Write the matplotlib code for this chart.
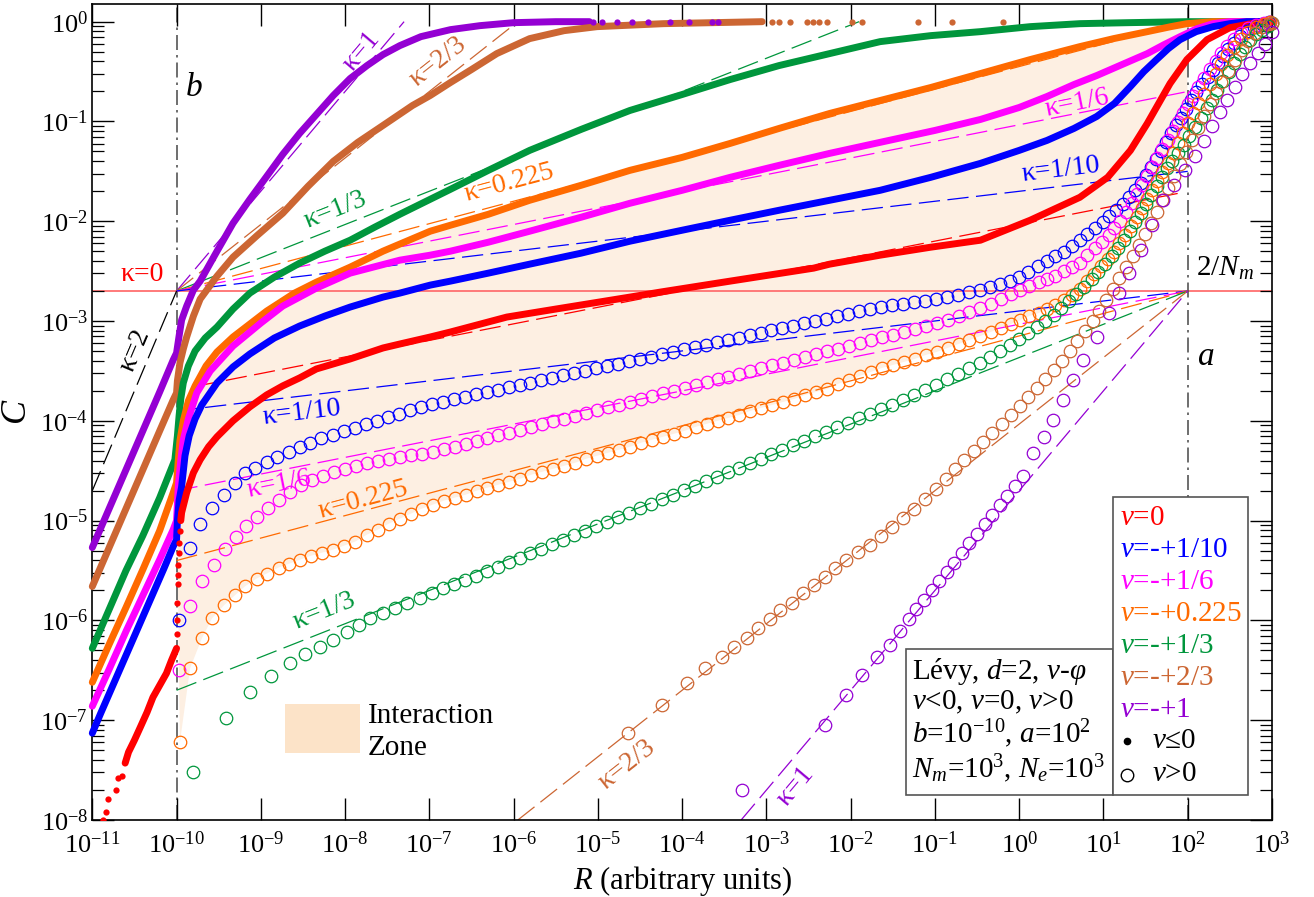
import numpy as np
import matplotlib.pyplot as plt
from matplotlib.patches import Rectangle

plt.rcParams['font.family'] = ['Liberation Serif', 'DejaVu Serif']
plt.rcParams['mathtext.fontset'] = 'custom'
plt.rcParams['mathtext.rm'] = 'Liberation Serif'
plt.rcParams['mathtext.it'] = 'Liberation Serif:italic'
plt.rcParams['mathtext.bf'] = 'Liberation Serif:bold'

RED, BLUE, MAG, ORG = '#ff0000', '#0000ff', '#ff00ff', '#ff6a00'
GRN, BRN, PUR = '#00963c', '#cc6633', '#9400d3'

# ---- v<=0 curves, (log10 R, log10 C) ----
red_dots_lr = [-10.87, -10.84, -10.81, -10.72, -10.69, -10.65,
               -9.995, -9.99, -9.99, -9.985, -9.98, -9.98, -9.975, -9.97, -9.96]
red_dots_lc = [-8.0, -7.92, -7.79, -7.70, -7.58, -7.56,
               -6.14, -6.0, -5.83, -5.64, -5.54, -5.44, -5.32, -5.22, -5.1]
red_lo_lr = [-10.61, -10.57, -10.50, -10.43, -10.35, -10.28, -10.20, -10.12, -10.06, -10.0]
red_lo_lc = [-7.43, -7.32, -7.20, -7.07, -6.92, -6.77, -6.65, -6.53, -6.40, -6.28]
red_lr = [-9.95, -9.94, -9.88, -9.80, -9.72, -9.62, -9.52, -9.33, -9.13, -8.93, -8.74, -8.54,
          -8.34, -7.94, -7.55, -7.35, -6.99, -6.75, -6.08, -5.5, -4.62, -4.26, -3.43, -2.44,
          -2.25, -1.65, -1.05, -0.46, 0.13, 0.72, 1.05, 1.32, 1.52, 1.79, 1.99, 2.23, 2.5,
          2.82, 3.0]
red_lc = [-5.0, -4.92, -4.72, -4.52, -4.39, -4.26, -4.16, -4.0, -3.86, -3.74, -3.65, -3.57,
          -3.48, -3.38, -3.27, -3.23, -3.16, -3.11, -2.96, -2.88, -2.76, -2.71, -2.60, -2.47,
          -2.43, -2.34, -2.26, -2.19, -1.99, -1.76, -1.56, -1.29, -1.02, -0.62, -0.38, -0.18,
          -0.06, -0.01, 0.0]

blue_lr = [-11.0, -10.9, -10.75, -10.6, -10.45, -10.3, -10.15, -10.04, -10.0, -9.99, -9.97,
           -9.94, -9.90, -9.85, -9.78, -9.70, -9.52, -9.33, -9.13, -8.84, -8.54, -8.24, -7.94,
           -7.55, -7.35, -6.99, -6.75, -6.3, -5.81, -5.2, -4.62, -4.0, -3.43, -2.85, -2.25,
           -1.65, -1.05, -0.46, 0.0, 0.33, 0.65, 0.92, 1.13, 1.32, 1.48, 1.63, 1.77, 1.91,
           2.1, 2.3, 2.5, 2.7, 3.0]
blue_lc = [-7.13, -6.93, -6.64, -6.35, -6.06, -5.77, -5.48, -5.26, -5.19, -5.0, -4.8,
           -4.66, -4.35, -4.15, -3.98, -3.84, -3.62, -3.46, -3.33, -3.17, -3.05, -2.95, -2.86,
           -2.76, -2.72, -2.64, -2.60, -2.52, -2.43, -2.32, -2.20, -2.09, -1.99, -1.89, -1.79,
           -1.69, -1.56, -1.42, -1.29, -1.19, -1.07, -0.95, -0.82, -0.65, -0.50, -0.38, -0.27,
           -0.18, -0.10, -0.05, -0.02, 0.0, 0.0]

mag_lr = [-11.0, -10.8, -10.6, -10.4, -10.2, -10.04, -10.0, -9.98, -9.95, -9.92, -9.86,
          -9.76, -9.6, -9.33, -9.0, -8.74, -8.34, -7.94, -7.35, -6.99, -6.75, -6.3, -5.81,
          -5.2, -4.62, -4.0, -3.43, -2.85, -2.25, -1.6, -1.0, -0.46, 0.0, 0.33, 0.65, 0.92,
          1.22, 1.52, 1.72, 1.91, 2.11, 2.3, 2.5, 3.0]
mag_lc = [-6.86, -6.49, -6.11, -5.75, -5.39, -5.09, -5.0, -4.66, -4.40, -4.19, -3.98,
          -3.72, -3.50, -3.25, -3.02, -2.85, -2.67, -2.52, -2.39, -2.34, -2.30, -2.21, -2.10,
          -1.96, -1.82, -1.69, -1.56, -1.44, -1.32, -1.20, -1.09, -0.98, -0.86, -0.75, -0.63,
          -0.54, -0.43, -0.32, -0.23, -0.15, -0.07, -0.02, 0.0, 0.0]

org_lr = [-11.0, -10.8, -10.6, -10.4, -10.2, -10.04, -10.0, -9.98, -9.96, -9.92, -9.86,
          -9.78, -9.65, -9.52, -9.33, -9.13, -8.93, -8.6, -8.34, -7.94, -7.55, -6.99, -6.75,
          -6.3, -5.81, -5.2, -4.62, -4.0, -3.43, -2.85, -2.25, -1.65, -1.05, -0.46, 0.13,
          0.72, 1.12, 1.52, 1.8, 1.99, 2.3, 3.0]
org_lc = [-6.62, -6.24, -5.87, -5.49, -5.10, -4.72, -4.62, -4.40, -4.20, -4.0, -3.80,
          -3.65, -3.45, -3.31, -3.16, -3.03, -2.90, -2.72, -2.61, -2.46, -2.30, -2.10, -2.04,
          -1.93, -1.79, -1.64, -1.49, -1.36, -1.22, -1.07, -0.92, -0.79, -0.66, -0.52, -0.38,
          -0.25, -0.17, -0.10, -0.05, -0.02, 0.0, 0.0]

grn_lr = [-11.0, -10.8, -10.6, -10.4, -10.2, -10.02, -9.99, -9.97, -9.95, -9.92, -9.86,
          -9.78, -9.66, -9.52, -9.33, -9.13, -8.84, -8.54, -8.24, -7.94, -7.65, -7.35, -6.99,
          -6.75, -6.3, -5.81, -5.2, -4.62, -4.0, -3.43, -2.85, -2.25, -1.65, -1.05, -0.46,
          0.13, 0.72, 1.3, 1.99, 3.0]
grn_lc = [-6.28, -5.89, -5.50, -5.15, -4.77, -4.39, -4.15, -3.95, -3.78, -3.62, -3.45,
          -3.30, -3.17, -3.06, -2.88, -2.72, -2.56, -2.42, -2.30, -2.19, -2.06, -1.93, -1.78,
          -1.68, -1.49, -1.29, -1.08, -0.89, -0.73, -0.58, -0.44, -0.32, -0.20, -0.14, -0.10,
          -0.05, -0.02, -0.01, 0.0, 0.0]

brn_lr = [-11.0, -10.8, -10.6, -10.4, -10.2, -10.04, -10.0, -9.99, -9.96, -9.92, -9.88,
          -9.80, -9.72, -9.52, -9.33, -9.04, -8.74, -8.44, -8.14, -7.85, -7.55, -7.2, -6.99,
          -6.75, -6.5, -6.2, -5.81, -5.4, -5.01, -4.22, -3.05]
brn_lc = [-5.66, -5.27, -4.88, -4.49, -4.10, -3.79, -3.72, -3.60, -3.42, -3.28, -3.16,
          -2.95, -2.78, -2.55, -2.36, -2.14, -1.92, -1.65, -1.40, -1.21, -1.04, -0.84, -0.74,
          -0.61, -0.48, -0.32, -0.17, -0.09, -0.05, -0.02, 0.0]
brn_top_dots = [-2.93, -2.85, -2.72, -2.52, -2.45, -2.38, -2.28, -1.98, -1.86, -1.2, -0.8, -0.19]

pur_lr = [-11.0, -10.8, -10.6, -10.4, -10.2, -10.04, -10.0, -9.97, -9.94, -9.88, -9.8,
          -9.72, -9.52, -9.33, -9.13, -8.93, -8.74, -8.54, -8.34, -8.14, -7.94, -7.74, -7.55,
          -7.35, -7.1, -6.75, -6.4, -6.0, -5.5, -5.1]
pur_lc = [-5.27, -4.88, -4.49, -4.10, -3.71, -3.39, -3.32, -3.15, -2.99, -2.85, -2.69,
          -2.60, -2.30, -2.02, -1.78, -1.55, -1.33, -1.12, -0.93, -0.74, -0.57, -0.44, -0.33,
          -0.24, -0.15, -0.08, -0.04, -0.01, 0.0, 0.0]
pur_top_dots = [-5.06, -4.95, -4.77, -4.59, -4.41, -4.14, -3.92, -3.64, -3.57]

# ---- v>0 open circles, (log10 R, log10 C) ----
blue_c_lr = [-9.97, -9.84, -9.72, -9.58, -9.44, -9.31, -9.19, -9.07, -8.93, -8.81, -8.67,
             -8.54, -8.42, -8.28, -8.14, -8.01, -7.88, -7.75, -7.62, -7.49, -7.36, -7.23,
             -7.10, -6.97, -6.84, -6.71, -6.58, -6.45, -6.32, -6.19, -6.06, -5.93, -5.80,
             -5.67, -5.54, -5.41, -5.28, -5.15, -5.02, -4.89, -4.76, -4.63, -4.50, -4.37,
             -4.24, -4.11, -3.98, -3.85, -3.72, -3.59, -3.46, -3.33, -3.20, -3.07, -2.94,
             -2.81, -2.68, -2.55, -2.42, -2.29, -2.16, -2.03, -1.90, -1.77, -1.64, -1.51,
             -1.38, -1.25, -1.12, -0.99, -0.86, -0.73, -0.60, -0.47, -0.35, -0.23, -0.11,
             0.00, 0.11, 0.22, 0.33, 0.43, 0.53, 0.63, 0.72, 0.81, 0.90, 0.99, 1.07, 1.15,
             1.23, 1.30, 1.37, 1.44, 1.50, 1.56, 1.62, 1.68, 1.74, 1.80, 1.86, 1.92, 1.98,
             2.04, 2.10, 2.17, 2.24, 2.30, 2.36, 2.42, 2.48, 2.55, 2.62, 2.70, 2.79, 2.88,
             2.97]
blue_c_lc = [-6.00, -5.27, -5.03, -4.87, -4.74, -4.62, -4.52, -4.47, -4.41, -4.36, -4.31,
             -4.26, -4.22, -4.17, -4.14, -4.10, -4.07, -4.03, -4.00, -3.96, -3.93, -3.89,
             -3.86, -3.83, -3.81, -3.78, -3.76, -3.73, -3.71, -3.69, -3.66, -3.64, -3.62,
             -3.59, -3.57, -3.54, -3.52, -3.50, -3.47, -3.45, -3.43, -3.40, -3.38, -3.36,
             -3.33, -3.31, -3.28, -3.26, -3.24, -3.21, -3.19, -3.17, -3.14, -3.12, -3.09,
             -3.07, -3.05, -3.02, -3.00, -2.98, -2.95, -2.93, -2.90, -2.88, -2.86, -2.84,
             -2.83, -2.81, -2.80, -2.78, -2.76, -2.74, -2.71, -2.69, -2.66, -2.63, -2.60,
             -2.56, -2.51, -2.45, -2.40, -2.35, -2.31, -2.25, -2.19, -2.13, -2.07, -2.01,
             -1.95, -1.89, -1.83, -1.76, -1.69, -1.62, -1.54, -1.46, -1.38, -1.30, -1.21,
             -1.12, -1.04, -0.97, -0.88, -0.79, -0.70, -0.62, -0.55, -0.48, -0.41, -0.34,
             -0.27, -0.21, -0.14, -0.09, -0.05, -0.02, 0.00]

mag_c_lr = [-9.97, -9.84, -9.70, -9.56, -9.43, -9.30, -9.17, -9.04, -8.91, -8.78, -8.65,
            -8.52, -8.39, -8.26, -8.13, -8.00, -7.87, -7.74, -7.61, -7.48, -7.35, -7.22,
            -7.09, -6.96, -6.83, -6.70, -6.57, -6.44, -6.31, -6.18, -6.05, -5.92, -5.79,
            -5.66, -5.53, -5.40, -5.27, -5.14, -5.01, -4.88, -4.75, -4.62, -4.49, -4.36,
            -4.23, -4.10, -3.97, -3.84, -3.71, -3.58, -3.45, -3.32, -3.19, -3.06, -2.93,
            -2.80, -2.67, -2.54, -2.41, -2.28, -2.15, -2.02, -1.89, -1.76, -1.63, -1.50,
            -1.37, -1.24, -1.11, -0.98, -0.85, -0.72, -0.59, -0.46, -0.34, -0.22, -0.10,
            0.01, 0.12, 0.23, 0.33, 0.43, 0.53, 0.63, 0.72, 0.81, 0.90, 0.98, 1.06, 1.13,
            1.20, 1.27, 1.34, 1.40, 1.46, 1.52, 1.58, 1.64, 1.70, 1.76, 1.82, 1.88, 1.94,
            2.00, 2.06, 2.12, 2.19, 2.26, 2.33, 2.40, 2.47, 2.55, 2.63, 2.72, 2.81, 2.90,
            2.98]
mag_c_lc = [-6.50, -5.86, -5.60, -5.44, -5.28, -5.16, -5.05, -4.96, -4.87, -4.79, -4.71,
            -4.64, -4.59, -4.55, -4.51, -4.48, -4.45, -4.42, -4.40, -4.38, -4.36, -4.34,
            -4.33, -4.31, -4.28, -4.26, -4.23, -4.20, -4.17, -4.14, -4.12, -4.09, -4.06,
            -4.03, -4.00, -3.98, -3.95, -3.92, -3.89, -3.86, -3.84, -3.81, -3.78, -3.75,
            -3.72, -3.70, -3.67, -3.64, -3.61, -3.58, -3.56, -3.53, -3.50, -3.47, -3.44,
            -3.42, -3.39, -3.36, -3.33, -3.30, -3.28, -3.25, -3.22, -3.19, -3.16, -3.14,
            -3.11, -3.08, -3.05, -3.02, -2.99, -2.95, -2.91, -2.87, -2.83, -2.78, -2.73,
            -2.69, -2.65, -2.61, -2.58, -2.55, -2.50, -2.46, -2.42, -2.34, -2.27, -2.21,
            -2.14, -2.07, -2.00, -1.91, -1.82, -1.73, -1.64, -1.55, -1.46, -1.37, -1.28,
            -1.19, -1.10, -1.01, -0.92, -0.83, -0.74, -0.65, -0.56, -0.47, -0.39, -0.31,
            -0.24, -0.17, -0.11, -0.06, -0.03, -0.01, 0.00]

org_c_lr = [-9.96, -9.84, -9.70, -9.58, -9.44, -9.31, -9.19, -9.05, -8.93, -8.79, -8.66,
            -8.53, -8.40, -8.27, -8.14, -8.01, -7.88, -7.74, -7.61, -7.48, -7.35, -7.22,
            -7.09, -6.96, -6.83, -6.70, -6.57, -6.44, -6.31, -6.18, -6.05, -5.92, -5.79,
            -5.66, -5.53, -5.40, -5.27, -5.14, -5.01, -4.88, -4.75, -4.62, -4.49, -4.36,
            -4.23, -4.10, -3.97, -3.84, -3.71, -3.58, -3.45, -3.32, -3.19, -3.06, -2.93,
            -2.80, -2.67, -2.54, -2.41, -2.28, -2.15, -2.02, -1.89, -1.76, -1.63, -1.50,
            -1.37, -1.24, -1.11, -0.98, -0.85, -0.72, -0.59, -0.46, -0.34, -0.22, -0.10,
            0.01, 0.12, 0.23, 0.33, 0.43, 0.53, 0.63, 0.72, 0.81, 0.89, 0.97, 1.05, 1.12,
            1.19, 1.26, 1.33, 1.40, 1.46, 1.52, 1.58, 1.64, 1.70, 1.76, 1.82, 1.88, 1.94,
            2.00, 2.06, 2.12, 2.19, 2.26, 2.33, 2.40, 2.47, 2.55, 2.63, 2.72, 2.81, 2.90,
            2.98]
org_c_lc = [-7.22, -6.48, -6.18, -5.98, -5.85, -5.75, -5.66, -5.58, -5.53, -5.47, -5.43,
            -5.39, -5.35, -5.32, -5.29, -5.25, -5.21, -5.14, -5.09, -5.03, -4.98, -4.93,
            -4.88, -4.84, -4.80, -4.77, -4.74, -4.70, -4.67, -4.64, -4.61, -4.58, -4.54,
            -4.51, -4.48, -4.45, -4.42, -4.38, -4.35, -4.32, -4.29, -4.26, -4.22, -4.19,
            -4.16, -4.13, -4.10, -4.06, -4.03, -4.00, -3.97, -3.94, -3.90, -3.87, -3.84,
            -3.81, -3.78, -3.74, -3.71, -3.68, -3.63, -3.59, -3.55, -3.51, -3.47, -3.44,
            -3.41, -3.38, -3.34, -3.31, -3.27, -3.23, -3.19, -3.15, -3.11, -3.07, -3.03,
            -2.99, -2.95, -2.92, -2.88, -2.84, -2.79, -2.74, -2.68, -2.60, -2.53, -2.45,
            -2.38, -2.31, -2.22, -2.14, -2.05, -1.96, -1.87, -1.78, -1.69, -1.60, -1.51,
            -1.42, -1.32, -1.22, -1.12, -1.02, -0.92, -0.82, -0.72, -0.62, -0.52, -0.42,
            -0.33, -0.25, -0.17, -0.10, -0.05, -0.02, 0.00]

grn_c_lr = [-9.80, -9.41, -9.13, -8.88, -8.65, -8.47, -8.30, -8.14, -7.98, -7.84, -7.70,
            -7.55, -7.41, -7.27, -7.11, -6.97, -6.84, -6.71, -6.58, -6.45, -6.32, -6.19,
            -6.06, -5.93, -5.80, -5.67, -5.54, -5.41, -5.28, -5.15, -5.02, -4.89, -4.76,
            -4.63, -4.50, -4.37, -4.24, -4.11, -3.98, -3.85, -3.72, -3.59, -3.46, -3.33,
            -3.20, -3.07, -2.94, -2.81, -2.68, -2.55, -2.42, -2.29, -2.16, -2.03, -1.90,
            -1.77, -1.64, -1.51, -1.38, -1.25, -1.12, -0.99, -0.86, -0.73, -0.60, -0.47,
            -0.35, -0.23, -0.11, 0.00, 0.11, 0.21, 0.31, 0.41, 0.50, 0.59, 0.68, 0.77, 0.86,
            0.94, 1.02, 1.10, 1.17, 1.24, 1.31, 1.38, 1.45, 1.51, 1.57, 1.63, 1.69, 1.75,
            1.81, 1.88, 1.95, 2.02, 2.09, 2.16, 2.23, 2.29, 2.35, 2.42, 2.49, 2.55, 2.62,
            2.68, 2.74, 2.81, 2.88, 2.95, 3.0]
grn_c_lc = [-7.52, -6.98, -6.72, -6.56, -6.43, -6.34, -6.27, -6.20, -6.12, -6.05, -5.98,
            -5.93, -5.88, -5.83, -5.78, -5.73, -5.68, -5.64, -5.59, -5.55, -5.50, -5.46,
            -5.41, -5.37, -5.32, -5.28, -5.23, -5.19, -5.14, -5.10, -5.05, -5.01, -4.96,
            -4.92, -4.87, -4.83, -4.78, -4.74, -4.69, -4.65, -4.60, -4.56, -4.51, -4.47,
            -4.42, -4.38, -4.33, -4.29, -4.24, -4.20, -4.15, -4.11, -4.06, -4.02, -3.97,
            -3.93, -3.88, -3.84, -3.79, -3.74, -3.69, -3.64, -3.58, -3.53, -3.47, -3.42,
            -3.36, -3.30, -3.24, -3.18, -3.12, -3.06, -3.00, -2.94, -2.87, -2.80, -2.73,
            -2.66, -2.58, -2.51, -2.43, -2.35, -2.27, -2.19, -2.10, -2.01, -1.92, -1.83,
            -1.74, -1.65, -1.56, -1.47, -1.40, -1.32, -1.24, -1.15, -1.06, -0.97, -0.87,
            -0.78, -0.68, -0.59, -0.50, -0.41, -0.32, -0.25, -0.18, -0.12, -0.08, -0.04,
            -0.01]

brn_c_lr = [-4.64, -4.24, -3.94, -3.73, -3.53, -3.39, -3.23, -3.10, -2.96, -2.84, -2.70,
            -2.56, -2.44, -2.31, -2.19, -2.05, -1.91, -1.77, -1.64, -1.51, -1.38, -1.25,
            -1.12, -0.99, -0.87, -0.76, -0.65, -0.54, -0.43, -0.32, -0.21, -0.10, 0.01, 0.11,
            0.21, 0.31, 0.41, 0.51, 0.60, 0.69, 0.78, 0.87, 0.95, 1.03, 1.11, 1.19, 1.27,
            1.35, 1.42, 1.49, 1.56, 1.63, 1.70, 1.77, 1.84, 1.91, 1.98, 2.05, 2.12, 2.19,
            2.26, 2.33, 2.40, 2.48, 2.56, 2.64, 2.72, 2.80, 2.88, 2.96, 3.0]
brn_c_lc = [-7.13, -6.85, -6.63, -6.48, -6.37, -6.27, -6.18, -6.08, -5.99, -5.90, -5.83,
            -5.73, -5.65, -5.56, -5.47, -5.39, -5.31, -5.24, -5.15, -5.06, -4.97, -4.88,
            -4.78, -4.68, -4.58, -4.48, -4.39, -4.30, -4.21, -4.12, -4.03, -3.94, -3.85,
            -3.76, -3.67, -3.58, -3.49, -3.40, -3.30, -3.20, -3.10, -3.00, -2.90, -2.79,
            -2.68, -2.57, -2.46, -2.35, -2.24, -2.13, -2.02, -1.91, -1.79, -1.67, -1.55,
            -1.43, -1.31, -1.19, -1.07, -0.95, -0.83, -0.71, -0.60, -0.49, -0.38, -0.28,
            -0.19, -0.11, -0.05, -0.02, -0.01]

pur_c_lr = [-3.29, -2.31, -2.05, -1.86, -1.69, -1.53, -1.41, -1.31, -1.22, -1.13, -1.04,
            -0.95, -0.86, -0.77, -0.68, -0.59, -0.50, -0.41, -0.32, -0.23, -0.14, -0.05,
            0.04, 0.16, 0.29, 0.40, 0.52, 0.64, 0.76, 0.92, 1.06, 1.18, 1.30, 1.44, 1.58,
            1.71, 1.84, 1.97, 2.09, 2.19, 2.29, 2.38, 2.47, 2.56, 2.65, 2.74, 2.83, 2.92,
            3.0]
pur_c_lc = [-7.70, -7.05, -6.75, -6.55, -6.37, -6.25, -6.11, -5.99, -5.89, -5.80, -5.70,
            -5.61, -5.51, -5.42, -5.32, -5.22, -5.13, -5.03, -4.94, -4.84, -4.75, -4.65,
            -4.55, -4.32, -4.16, -3.99, -3.79, -3.59, -3.39, -3.16, -2.92, -2.72, -2.52,
            -2.29, -2.04, -1.79, -1.64, -1.49, -1.35, -1.20, -1.05, -0.91, -0.78, -0.65,
            -0.52, -0.41, -0.31, -0.22, -0.10]

# ---- asymptote (dashed) segments: (color, lr0, lc0, lr1, lc1) ----
upper_dash = [(PUR, -10.0, -2.699, -7.30, 0.0), (BRN, -10.0, -2.699, -5.95, 0.0),
              (GRN, -10.0, -2.699, -1.90, 0.0), (ORG, -10.0, -2.699, 2.0, 0.0),
              (MAG, -10.0, -2.699, 2.0, -0.70), (BLUE, -10.0, -2.699, 2.0, -1.50),
              (RED, -9.75, -3.65, 1.95, -1.71), ('black', -11.0, -4.70, -10.0, -2.699)]
lower_dash = [(BLUE, -10.0, -3.90, 2.0, -2.699), (MAG, -10.0, -4.70, 2.0, -2.699),
              (ORG, -10.0, -5.40, 2.0, -2.699), (GRN, -10.0, -6.70, 2.0, -2.699),
              (BRN, -5.95, -8.0, 2.0, -2.699), (PUR, -3.30, -8.0, 2.0, -2.699)]

# ---- kappa labels: text, color, lr, lc, rotation ----
kappa_labels = [('κ=1', PUR, -7.80, -0.30, 49.8), ('κ=2/3', BRN, -6.90, -0.40, 38.3),
                ('κ=1/3', GRN, -8.11, -1.89, 21.5), ('κ=0.225', ORG, -6.05, -1.62, 14.9),
                ('κ=1/6', MAG, 0.69, -0.82, 11.2), ('κ=1/10', BLUE, 0.49, -1.49, 6.8),
                ('κ=0', RED, -10.41, -2.53, 0), ('κ=2', 'black', -10.49, -3.29, 67),
                ('κ=1/10', BLUE, -8.51, -3.92, 6.8), ('κ=1/6', MAG, -8.78, -4.64, 11.2),
                ('κ=0.225', ORG, -7.79, -4.79, 14.9), ('κ=1/3', GRN, -8.24, -5.91, 21.5),
                ('κ=2/3', BRN, -4.66, -7.45, 38.3), ('κ=1', PUR, -2.65, -7.66, 49.8)]

legend_labels = ['$v$=0', '$v$=-+1/10', '$v$=-+1/6', '$v$=-+0.225', '$v$=-+1/3',
                 '$v$=-+2/3', '$v$=-+1']
legend_colors = [RED, BLUE, MAG, ORG, GRN, BRN, PUR]
info_lines = ['Lévy, $d$=2, $v$-$\\varphi$', '$v$<0, $v$=0, $v$>0',
              '$b$=10$^{-10}$, $a$=10$^2$', '$N_m$=10$^3$, $N_e$=10$^3$']


def P(a):
    return 10.0 ** np.asarray(a)


fig = plt.figure(figsize=(13.14, 8.97), dpi=100)
ax = fig.add_axes([0.07024, 0.08584, 0.89779, 0.90970])
ax.set_xscale('log')
ax.set_yscale('log')
ax.set_xlim(1e-11, 1e3)
ax.set_ylim(1e-8, 10 ** 0.177)

# interaction zone between the kappa=0.225 curves, R in [b, a]
up = [(x, y) for x, y in zip(org_lr, org_lc) if -10.0 <= x <= 2.0]
lo = [(x, y) for x, y in zip(org_c_lr, org_c_lc) if x <= 2.0]
poly = up + lo[::-1]
ax.fill(P([p[0] for p in poly]), P([p[1] for p in poly]), color='#fdefe2', lw=0, zorder=0)

# reference lines
ax.axhline(2e-3, color='#ff7070', lw=1.3, zorder=1)
ax.axvline(1e-10, color='#555555', lw=1.2, dashes=[9, 3, 1.5, 3], zorder=1)
ax.axvline(1e2, color='#555555', lw=1.2, dashes=[9, 3, 1.5, 3], zorder=1)
for c, x0, y0, x1, y1 in upper_dash + lower_dash:
    ax.plot(P([x0, x1]), P([y0, y1]), color=c, lw=0.9, dashes=[17, 6], zorder=2)

# v<=0 curves (thick), drawn purple first so red ends on top
solid = [(pur_lr, pur_lc, PUR), (brn_lr, brn_lc, BRN), (grn_lr, grn_lc, GRN),
         (org_lr, org_lc, ORG), (mag_lr, mag_lc, MAG), (blue_lr, blue_lc, BLUE)]
for lr, lc, c in solid:
    ax.plot(P(lr), P(lc), color=c, lw=5, solid_capstyle='round', zorder=3, clip_on=False)
ax.plot(P(red_lo_lr), P(red_lo_lc), color=RED, lw=5, solid_capstyle='round', zorder=3)
ax.plot(P(red_lr), P(red_lc), color=RED, lw=5, solid_capstyle='round', zorder=3, clip_on=False)
ax.plot(P(red_dots_lr), P(red_dots_lc), 'o', color=RED, ms=4.5, mew=0, zorder=3)
ax.plot(P(pur_top_dots), np.ones(len(pur_top_dots)), 'o', color=PUR, ms=4.5, mew=0, zorder=3)
ax.plot(P(brn_top_dots), np.ones(len(brn_top_dots)), 'o', color=BRN, ms=4.5, mew=0, zorder=3)

# v>0 open circles
circles = [(blue_c_lr, blue_c_lc, BLUE), (mag_c_lr, mag_c_lc, MAG), (org_c_lr, org_c_lc, ORG),
           (grn_c_lr, grn_c_lc, GRN), (brn_c_lr, brn_c_lc, BRN), (pur_c_lr, pur_c_lc, PUR)]
for lr, lc, c in circles:
    ax.plot(P(lr), P(lc), 'o', mfc='none', mec=c, ms=9, mew=0.9, zorder=4, clip_on=False)

for t, c, x, y, r in kappa_labels:
    ax.text(10 ** x, 10 ** y, t, color=c, fontsize=20, rotation=r, rotation_mode='anchor',
            ha='center', va='center', zorder=5)

ax.text(10 ** -9.80, 10 ** -0.66, '$b$', fontsize=24, ha='center', va='center')
ax.text(10 ** 2.21, 10 ** -3.36, '$a$', fontsize=24, ha='center', va='center')
ax.text(10 ** 2.44, 10 ** -2.47, '2/$N_m$', fontsize=21, ha='center', va='center')

# info box + legend box
tr = ax.transAxes
ax.add_patch(Rectangle((0.690, 0.0306), 0.175, 0.179, transform=tr, fill=False,
                       ec='#555555', lw=1.2, zorder=6))
ax.add_patch(Rectangle((0.865, 0.0306), 0.115, 0.3654, transform=tr, facecolor='white',
                       ec='#555555', lw=1.2, zorder=6))
for s, yb in zip(info_lines, [0.1728, 0.136, 0.0944, 0.0515]):
    ax.text(0.695, yb, s, transform=tr, fontsize=21, va='baseline', zorder=7)
for s, c, yb in zip(legend_labels, legend_colors,
                    [0.3615, 0.3223, 0.2831, 0.2439, 0.2047, 0.1654, 0.1262]):
    ax.text(0.871, yb, s, transform=tr, fontsize=21, color=c, va='baseline', zorder=7)
ax.plot([0.877], [0.0968], 'o', color='black', ms=4.5, transform=tr, zorder=7)
ax.plot([0.877], [0.0551], 'o', mfc='none', mec='black', ms=9, mew=1, transform=tr, zorder=7)
ax.text(0.898, 0.0882, '$v$≤0', transform=tr, fontsize=21, va='baseline', zorder=7)
ax.text(0.898, 0.0478, '$v$>0', transform=tr, fontsize=21, va='baseline', zorder=7)

ax.add_patch(Rectangle((0.1634, 0.0821), 0.0635, 0.0601, transform=tr,
                       facecolor='#fce3c8', lw=0, zorder=6))
ax.text(0.2336, 0.1189, 'Interaction', transform=tr, fontsize=21, va='baseline')
ax.text(0.2336, 0.0797, 'Zone', transform=tr, fontsize=21, va='baseline')

# axes cosmetics
xt = [10.0 ** k for k in range(-11, 4)]
yt = [10.0 ** k for k in range(-8, 1)]
ax.set_xticks(xt)
ax.set_xticklabels(['10$^{%d}$' % k for k in range(-11, 4)])
ax.set_yticks(yt)
ax.set_yticklabels(['10$^{%d}$' % k for k in range(-8, 1)])
ax.tick_params(which='both', direction='in', top=True, right=True, labelsize=19)
ax.tick_params(which='major', length=16, width=1.0)
ax.tick_params(which='minor', length=8.5, width=0.9)
ax.tick_params(axis='x', pad=8)
ax.tick_params(axis='y', pad=3)
for sp in ax.spines.values():
    sp.set_linewidth(1.2)

ax.set_ylabel('$C$', fontsize=26)
ax.yaxis.set_label_coords(-0.049, 0.5)
ax.set_xlabel('$R$ (arbitrary units)', fontsize=22)
ax.xaxis.set_label_coords(0.5, -0.054)

fig.savefig('out.png', dpi=100)
